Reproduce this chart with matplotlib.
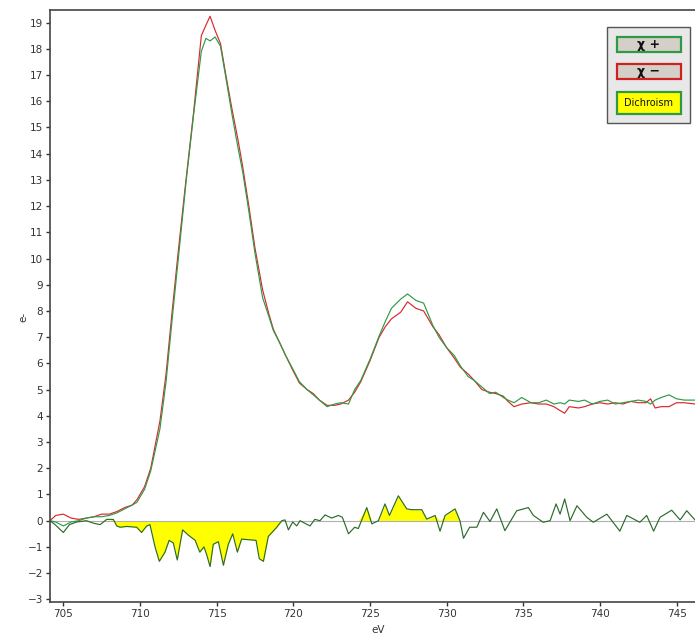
import numpy as np
import matplotlib
matplotlib.use("Agg")
import matplotlib.pyplot as plt
from matplotlib.patches import Rectangle

# energy grid (eV) shared by both helicity spectra
ev = [704.13, 704.5, 705.0, 705.5, 706.0, 706.5, 707.0, 707.5, 708.0, 708.5,
      709.0, 709.5, 709.8, 710.3, 710.7, 711.0, 711.3, 711.7, 712.1, 712.5,
      713.0, 713.5, 714.0, 714.3, 714.57, 714.9, 715.25, 715.6, 716.0, 716.4,
      716.7, 717.1, 717.5, 718.0, 718.4, 718.7, 719.1, 719.5, 720.0, 720.4,
      720.9, 721.3, 721.7, 722.2, 722.7, 723.1, 723.6, 724.0, 724.4, 725.0,
      725.6, 726.0, 726.4, 727.0, 727.45, 728.0, 728.5, 729.1, 729.5, 730.0,
      730.5, 730.9, 731.4, 731.8, 732.3, 732.8, 733.2, 733.7, 734.0, 734.4,
      734.9, 735.5, 736.0, 736.5, 737.0, 737.4, 737.7, 738.0, 738.6, 739.0,
      739.5, 740.0, 740.5, 741.0, 741.5, 742.0, 742.5, 743.0, 743.3, 743.6,
      744.0, 744.5, 745.0, 745.5, 746.2]

chi_minus = [0.0, 0.2, 0.25, 0.1, 0.05, 0.1, 0.15, 0.25, 0.25, 0.35,
             0.5, 0.6, 0.8, 1.3, 2.0, 2.9, 3.8, 5.6, 8.0, 10.3,
             13.0, 15.6, 18.5, 18.9, 19.24, 18.7, 18.2, 17.0, 15.7, 14.5,
             13.5, 12.0, 10.4, 8.8, 7.9, 7.3, 6.8, 6.3, 5.7, 5.25,
             5.0, 4.85, 4.6, 4.4, 4.4, 4.45, 4.6, 4.9, 5.3, 6.1,
             7.0, 7.4, 7.7, 7.95, 8.35, 8.1, 8.0, 7.4, 7.1, 6.6,
             6.2, 5.85, 5.6, 5.35, 5.0, 4.9, 4.85, 4.75, 4.55, 4.35,
             4.45, 4.5, 4.45, 4.45, 4.35, 4.2, 4.1, 4.35, 4.3, 4.35,
             4.45, 4.5, 4.45, 4.5, 4.45, 4.55, 4.5, 4.5, 4.65, 4.3,
             4.35, 4.35, 4.5, 4.5, 4.45]

chi_plus = [0.0, -0.05, -0.2, -0.05, 0.0, 0.1, 0.15, 0.15, 0.2, 0.3,
            0.45, 0.6, 0.7, 1.2, 1.9, 2.7, 3.5, 5.3, 7.7, 10.0,
            12.9, 15.5, 17.9, 18.4, 18.3, 18.45, 18.1, 16.9, 15.5, 14.2,
            13.3, 11.8, 10.2, 8.5, 7.8, 7.25, 6.8, 6.3, 5.75, 5.3,
            5.0, 4.8, 4.6, 4.35, 4.45, 4.5, 4.45, 5.0, 5.35, 6.15,
            7.05, 7.6, 8.1, 8.45, 8.65, 8.4, 8.3, 7.45, 7.0, 6.6,
            6.3, 5.9, 5.5, 5.35, 5.1, 4.85, 4.9, 4.7, 4.6, 4.5,
            4.7, 4.5, 4.5, 4.6, 4.45, 4.5, 4.45, 4.6, 4.55, 4.6,
            4.45, 4.55, 4.6, 4.45, 4.5, 4.55, 4.6, 4.55, 4.45, 4.6,
            4.7, 4.8, 4.65, 4.6, 4.6]

# dichroism signal
ev_dichro = [704.13, 704.46, 705.0, 705.4, 705.87, 706.5, 707.0, 707.4, 707.83, 708.26,
             708.48, 708.7, 709.13, 709.78, 710.1, 710.44, 710.65, 710.98, 711.26, 711.63,
             711.9, 712.17, 712.43, 712.78, 713.15, 713.6, 713.9, 714.17, 714.35, 714.57,
             714.78, 715.11, 715.44, 715.76, 716.05, 716.35, 716.63, 716.96, 717.57, 717.78,
             718.05, 718.37, 718.92, 719.25, 719.46, 719.68, 719.96, 720.22, 720.44, 720.76,
             721.09, 721.4, 721.74, 722.07, 722.5, 722.94, 723.2, 723.6, 724.0, 724.24,
             724.79, 725.12, 725.55, 725.98, 726.27, 726.85, 727.4, 727.72, 728.38, 728.7,
             729.25, 729.57, 729.9, 730.55, 730.87, 731.1, 731.5, 731.97, 732.4, 732.83,
             733.27, 733.8, 734.57, 735.33, 735.66, 736.3, 736.75, 737.14, 737.4, 737.7,
             738.05, 738.5, 739.14, 739.57, 740.45, 741.3, 741.75, 742.6, 743.05, 743.5,
             743.92, 744.68, 745.23, 745.66, 746.2]
dichro = [0.0, -0.15, -0.45, -0.15, -0.05, 0.0, -0.1, -0.15, 0.05, 0.05,
          -0.2, -0.25, -0.22, -0.25, -0.45, -0.2, -0.15, -1.0, -1.55, -1.2,
          -0.75, -0.85, -1.5, -0.35, -0.55, -0.75, -1.2, -1.0, -1.3, -1.75,
          -0.9, -0.8, -1.7, -0.9, -0.5, -1.2, -0.7, -0.72, -0.75, -1.45,
          -1.55, -0.6, -0.25, 0.0, 0.03, -0.35, -0.05, -0.2, 0.0, -0.1,
          -0.2, 0.05, 0.0, 0.22, 0.1, 0.2, 0.13, -0.5, -0.25, -0.3,
          0.5, -0.12, 0.0, 0.64, 0.2, 0.95, 0.45, 0.42, 0.42, 0.06,
          0.2, -0.4, 0.2, 0.45, 0.0, -0.67, -0.25, -0.25, 0.32, -0.03,
          0.45, -0.38, 0.38, 0.5, 0.2, -0.06, 0.0, 0.64, 0.25, 0.83,
          0.0, 0.57, 0.13, -0.06, 0.25, -0.4, 0.2, -0.06, 0.2, -0.4,
          0.13, 0.4, 0.03, 0.38, 0.03]

yticks = list(range(-3, 20))
xticks = [705, 710, 715, 720, 725, 730, 735, 740, 745]

RED = "#d8282c"
GREEN = "#2f9a46"
DGREEN = "#2c6b2c"

fig = plt.figure(figsize=(6.95, 6.35), dpi=100)
ax = fig.add_axes([50 / 695, 33.3 / 635, 1 - 50 / 695, 591.7 / 635])

evd = np.array(ev_dichro)
d = np.array(dichro)
neg_mask = (evd >= 708.2) & (evd <= 719.3)
pos_mask = (evd >= 724.4) & (evd <= 731.0)
ax.fill_between(evd, d, 0, where=neg_mask, interpolate=True,
                color="#ffff00", linewidth=0)
ax.fill_between(evd, np.maximum(d, 0), 0, where=pos_mask, interpolate=True,
                color="#ffff00", linewidth=0)
ax.axhline(0, color="#b0b0b0", linewidth=0.8)

ax.plot(ev, chi_minus, color=RED, linewidth=0.85)
ax.plot(ev, chi_plus, color=GREEN, linewidth=0.85)
ax.plot(evd, d, color=DGREEN, linewidth=0.85)

ax.set_xlim(704.13, 746.2)
ax.set_ylim(-3.09, 19.48)
ax.set_xticks(xticks)
ax.set_yticks(yticks)
ax.tick_params(direction="out", length=3, width=1, labelsize=7.5,
               colors="#333333", pad=2)
for s in ["left", "bottom", "top"]:
    ax.spines[s].set_color("#444444")
    ax.spines[s].set_linewidth(1.2)
ax.spines["right"].set_visible(False)

fig.text(378 / 695, 1 - 630 / 635, "eV", fontsize=7.5, color="#333333",
         ha="center", va="center")
fig.text(23 / 695, 1 - 317 / 635, "e-", fontsize=7.5, color="#333333",
         ha="center", va="center", rotation=90)

# legend buttons
fig.patches.append(Rectangle((606.7 / 695, 511.7 / 635), 83.3 / 695, 96.6 / 635,
                             transform=fig.transFigure, facecolor="#e8e8e8",
                             edgecolor="#555555", linewidth=1.0))
buttons = [("χ +", 583.3, 15.0, GREEN, "#d4d0c8", "bold", 9),
           ("χ −", 555.7, 15.0, "#cc2222", "#d4d0c8", "bold", 9),
           ("Dichroism", 520.7, 22.6, GREEN, "#ffff00", "normal", 7)]
for label, y0, h, ec, fc, weight, fs in buttons:
    fig.patches.append(Rectangle((616.7 / 695, y0 / 635), 64 / 695, h / 635,
                                 transform=fig.transFigure, facecolor=fc,
                                 edgecolor=ec, linewidth=1.6))
    fig.text(648.7 / 695, (y0 + h / 2) / 635, label, fontsize=fs,
             fontweight=weight, ha="center", va="center", color="#111111")

fig.savefig("out.png", dpi=100)
